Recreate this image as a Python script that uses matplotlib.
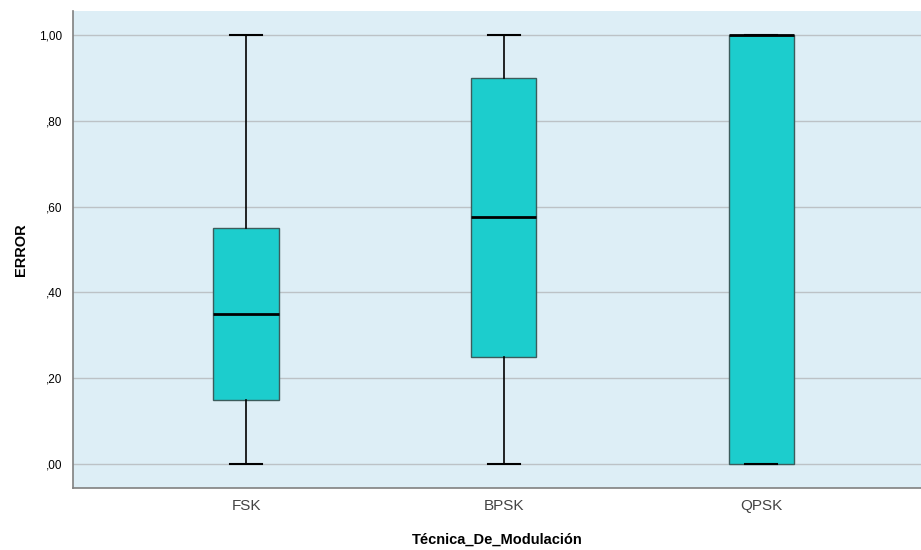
import matplotlib
matplotlib.use('Agg')
import matplotlib.pyplot as plt

plt.rcParams['font.family'] = ['Liberation Sans', 'DejaVu Sans']

# Boxplot summary values
techniques = ['FSK', 'BPSK', 'QPSK']
whisker_low = [0.00, 0.00, 0.00]
q1 = [0.15, 0.25, 0.00]
median = [0.35, 0.575, 1.00]
q3 = [0.55, 0.90, 1.00]
whisker_high = [1.00, 1.00, 1.00]

stats = []
for i, name in enumerate(techniques):
    stats.append({'label': name, 'whislo': whisker_low[i], 'q1': q1[i],
                  'med': median[i], 'q3': q3[i], 'whishi': whisker_high[i],
                  'fliers': []})

fig = plt.figure(figsize=(9.21, 5.5), dpi=100)
ax = fig.add_axes([0.0793, 0.1127, 0.9207, 0.8673])
ax.set_facecolor('#ddeef6')

ax.bxp(stats, positions=range(len(techniques)), widths=0.254, patch_artist=True,
       showfliers=False,
       boxprops=dict(facecolor='#1ccdcd', edgecolor='#3c5c5c', linewidth=1.0),
       medianprops=dict(color='black', linewidth=2.0),
       whiskerprops=dict(color='black', linewidth=1.2),
       capprops=dict(color='black', linewidth=1.5),
       capwidths=0.124, zorder=3)

ax.set_xlim(-0.672, 2.62)
ax.set_ylim(-0.056, 1.056)
yticks = [0.0, 0.2, 0.4, 0.6, 0.8, 1.0]
ax.set_yticks(yticks)
ax.set_yticklabels([',00', ',20', ',40', ',60', ',80', '1,00'], fontsize=8.5)
ax.set_xticks(range(len(techniques)))
ax.set_xticklabels(techniques, fontsize=11, color='#444444')
ax.tick_params(axis='both', length=0)
ax.tick_params(axis='y', pad=8)
ax.tick_params(axis='x', pad=8)
ax.yaxis.grid(True, color='#bcc2c6', linewidth=1.0, zorder=0)
ax.set_axisbelow(True)

for side in ['top', 'right']:
    ax.spines[side].set_visible(False)
for side in ['left', 'bottom']:
    ax.spines[side].set_color('#808080')
    ax.spines[side].set_linewidth(1.2)

ax.set_ylabel('ERROR', fontsize=10.5, fontweight='bold', labelpad=8)
ax.set_xlabel('Técnica_De_Modulación', fontsize=10.5, fontweight='bold', labelpad=14)

fig.savefig('out.png', dpi=100)
